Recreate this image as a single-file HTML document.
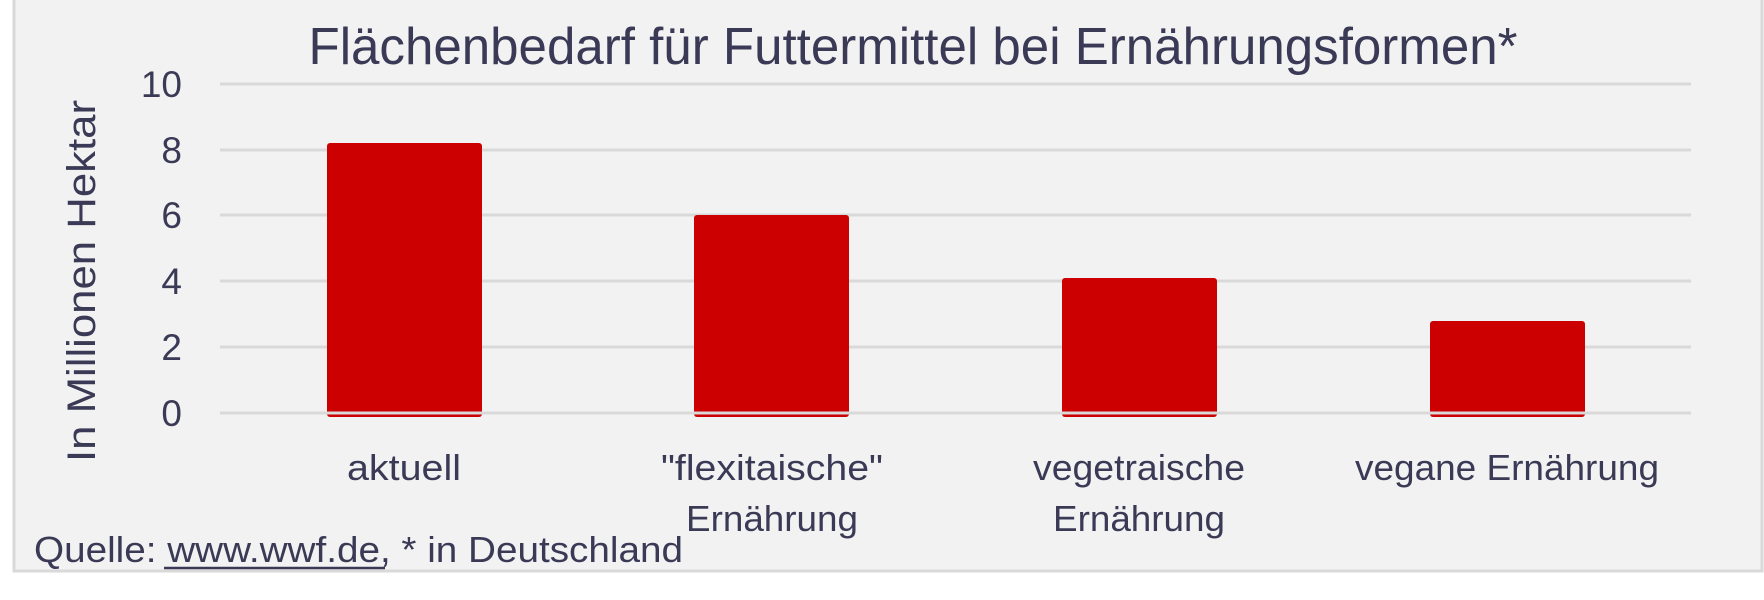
<!DOCTYPE html>
<html><head><meta charset="utf-8"><style>
html,body{margin:0;padding:0;background:#fff;}
svg{display:block;}
text{font-family:"Liberation Sans",sans-serif;fill:#3a3a56;}
</style></head><body>
<svg width="1764" height="600" viewBox="0 0 1764 600" xmlns="http://www.w3.org/2000/svg">
<rect x="14" y="-2" width="1748" height="573" fill="#f2f2f2" stroke="#d9d9d9" stroke-width="3"/>
<text x="913" y="64" font-size="52" text-anchor="middle" textLength="1209" lengthAdjust="spacingAndGlyphs">Flächenbedarf für Futtermittel bei Ernährungsformen*</text>
<g stroke="#d9d9d9" stroke-width="3">
<line x1="220" y1="84" x2="1691" y2="84"/>
<line x1="220" y1="150" x2="1691" y2="150"/>
<line x1="220" y1="215" x2="1691" y2="215"/>
<line x1="220" y1="281" x2="1691" y2="281"/>
<line x1="220" y1="347" x2="1691" y2="347"/>
</g>
<g fill="#cc0000">
<rect x="327" y="143" width="155" height="274" rx="3"/>
<rect x="694" y="215" width="155" height="202" rx="3"/>
<rect x="1062" y="278" width="155" height="139" rx="3"/>
<rect x="1430" y="321" width="155" height="96" rx="3"/>
</g>
<line x1="220" y1="413" x2="1691" y2="413" stroke="#d9d9d9" stroke-width="3"/>
<g font-size="37" text-anchor="end">
<text x="182" y="97">10</text>
<text x="182" y="163">8</text>
<text x="182" y="228">6</text>
<text x="182" y="294">4</text>
<text x="182" y="360">2</text>
<text x="182" y="426">0</text>
</g>
<text transform="translate(95,281) rotate(-90)" font-size="40" text-anchor="middle" textLength="362" lengthAdjust="spacingAndGlyphs">In Millionen Hektar</text>
<g font-size="36" text-anchor="middle">
<text x="404" y="480" textLength="114" lengthAdjust="spacingAndGlyphs">aktuell</text>
<text x="772" y="480" textLength="222" lengthAdjust="spacingAndGlyphs">"flexitaische"</text>
<text x="772" y="531" textLength="172" lengthAdjust="spacingAndGlyphs">Ernährung</text>
<text x="1139" y="480" textLength="212" lengthAdjust="spacingAndGlyphs">vegetraische</text>
<text x="1139" y="531" textLength="172" lengthAdjust="spacingAndGlyphs">Ernährung</text>
<text x="1507" y="480" textLength="304" lengthAdjust="spacingAndGlyphs">vegane Ernährung</text>
</g>
<text x="34" y="562" font-size="36" textLength="649" lengthAdjust="spacingAndGlyphs">Quelle: www.wwf.de, * in Deutschland</text>
<line x1="164" y1="568" x2="385" y2="568" stroke="#3a3a56" stroke-width="2.5"/>
</svg>
</body></html>
